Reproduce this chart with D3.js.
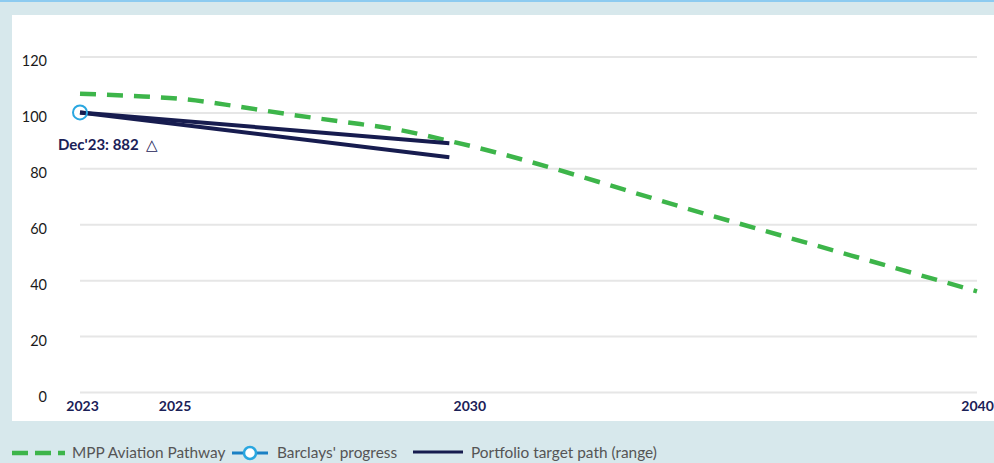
<!DOCTYPE html>
<html>
<head>
<meta charset="utf-8">
<script src="https://cdn.jsdelivr.net/npm/d3@7"></script>
<style>
  body { margin: 0; background: #d7e8ec; }
  text { font-family: Lato, "Open Sans", sans-serif; }
</style>
</head>
<body>
<script>
const width = 994;
const height = 463;

// MPP aviation pathway (dashed green)
var pathwayYears = [2023, 2024, 2025, 2026, 2027, 2028, 2029, 2030, 2035, 2040];
var pathwayValues = [106.7, 105.9, 104.7, 102.1, 99.2, 96.6, 93.9, 89.8, 62.9, 36.0];

// portfolio target path (range), upper and lower
var targetYears = [2023, 2030];
var targetUpper = [100, 89];
var targetLower = [100, 84];

// Barclays' progress point
var progressYears = [2023];
var progressValues = [100];

var xTicks = [2023, 2025, 2030, 2040];
var xTickShift = [2, -11, 20, 0];
var yTicks = [0, 20, 40, 60, 80, 100, 120];

var svg = d3.select("body")
  .append("svg")
  .attr("width", width)
  .attr("height", height);

// background and panel
svg.append("rect").attr("width", width).attr("height", height).attr("fill", "#d7e8ec");
svg.append("rect").attr("width", width).attr("height", 2).attr("fill", "#8dcbf0");
svg.append("rect").attr("x", 12).attr("y", 15).attr("width", width - 12).attr("height", 406).attr("fill", "#fff");

var x = d3.scaleLinear().domain([2023, 2040]).range([80, 977]);
var y = d3.scaleLinear().domain([0, 120]).range([392, 56.5]);

// y axis with gridlines
var yAxis = svg.append("g")
  .attr("transform", "translate(80,0)")
  .call(d3.axisLeft(y).tickValues(yTicks).tickSize(-(977 - 80)).tickPadding(33));
yAxis.select(".domain").remove();
yAxis.selectAll("line").attr("stroke", "#e6e6e6").attr("stroke-width", 2);
yAxis.selectAll("text")
  .attr("dy", 9)
  .attr("fill", "#1a1a1a")
  .style("font-size", "14.5px");

// x axis labels
var xAxis = svg.append("g")
  .attr("transform", "translate(0,392)")
  .call(d3.axisBottom(x).tickValues(xTicks).tickSize(0).tickPadding(9).tickFormat(d3.format("d")));
xAxis.select(".domain").remove();
xAxis.selectAll("text")
  .attr("dx", function(d, i) { return xTickShift[i]; })
  .attr("fill", "#1b2157")
  .style("font-size", "14px")
  .style("font-weight", "bold");

var line = d3.line()
  .x(function(d) { return x(d[0]); })
  .y(function(d) { return y(d[1]); });

// green dashed pathway
svg.append("path")
  .datum(d3.zip(pathwayYears, pathwayValues))
  .attr("d", line.curve(d3.curveMonotoneX))
  .attr("fill", "none")
  .attr("stroke", "#3db54a")
  .attr("stroke-width", 4.5)
  .attr("stroke-dasharray", "16,11");

// target path range
line.curve(d3.curveLinear);
[targetUpper, targetLower].forEach(function(vals) {
  svg.append("path")
    .datum(d3.zip(targetYears, vals))
    .attr("d", line)
    .attr("fill", "none")
    .attr("stroke", "#171c4f")
    .attr("stroke-width", 4);
});

// progress marker
svg.selectAll("circle.progress")
  .data(d3.zip(progressYears, progressValues))
  .enter()
  .append("circle")
  .attr("class", "progress")
  .attr("cx", function(d) { return x(d[0]); })
  .attr("cy", function(d) { return y(d[1]); })
  .attr("r", 7)
  .attr("fill", "none")
  .attr("stroke", "#2aa7e0")
  .attr("stroke-width", 2);

// annotation
var note = svg.append("text")
  .attr("x", 58)
  .attr("y", 150)
  .attr("fill", "#1b2157")
  .style("font-size", "15px");
note.append("tspan").style("font-weight", "bold").text("Dec'23: 882");
note.append("tspan").attr("dx", 7).text("\u25B3");

// legend
var legend = svg.append("g");
legend.append("line")
  .attr("x1", 12).attr("x2", 65).attr("y1", 453).attr("y2", 453)
  .attr("stroke", "#3db54a").attr("stroke-width", 4.5).attr("stroke-dasharray", "16,7");
legend.append("text").attr("x", 72).attr("y", 458).text("MPP Aviation Pathway");

legend.append("line")
  .attr("x1", 232).attr("x2", 268).attr("y1", 453).attr("y2", 453)
  .attr("stroke", "#1a80c4").attr("stroke-width", 3);
legend.append("circle")
  .attr("cx", 250).attr("cy", 453).attr("r", 6)
  .attr("fill", "#fff").attr("stroke", "#2aa7e0").attr("stroke-width", 2.5);
legend.append("text").attr("x", 277).attr("y", 458).text("Barclays' progress");

legend.append("line")
  .attr("x1", 413).attr("x2", 463).attr("y1", 452).attr("y2", 452)
  .attr("stroke", "#171c4f").attr("stroke-width", 3);
legend.append("text").attr("x", 471).attr("y", 458).text("Portfolio target path (range)");

legend.selectAll("text")
  .attr("fill", "#555")
  .style("font-size", "15.4px");
</script>
</body>
</html>
